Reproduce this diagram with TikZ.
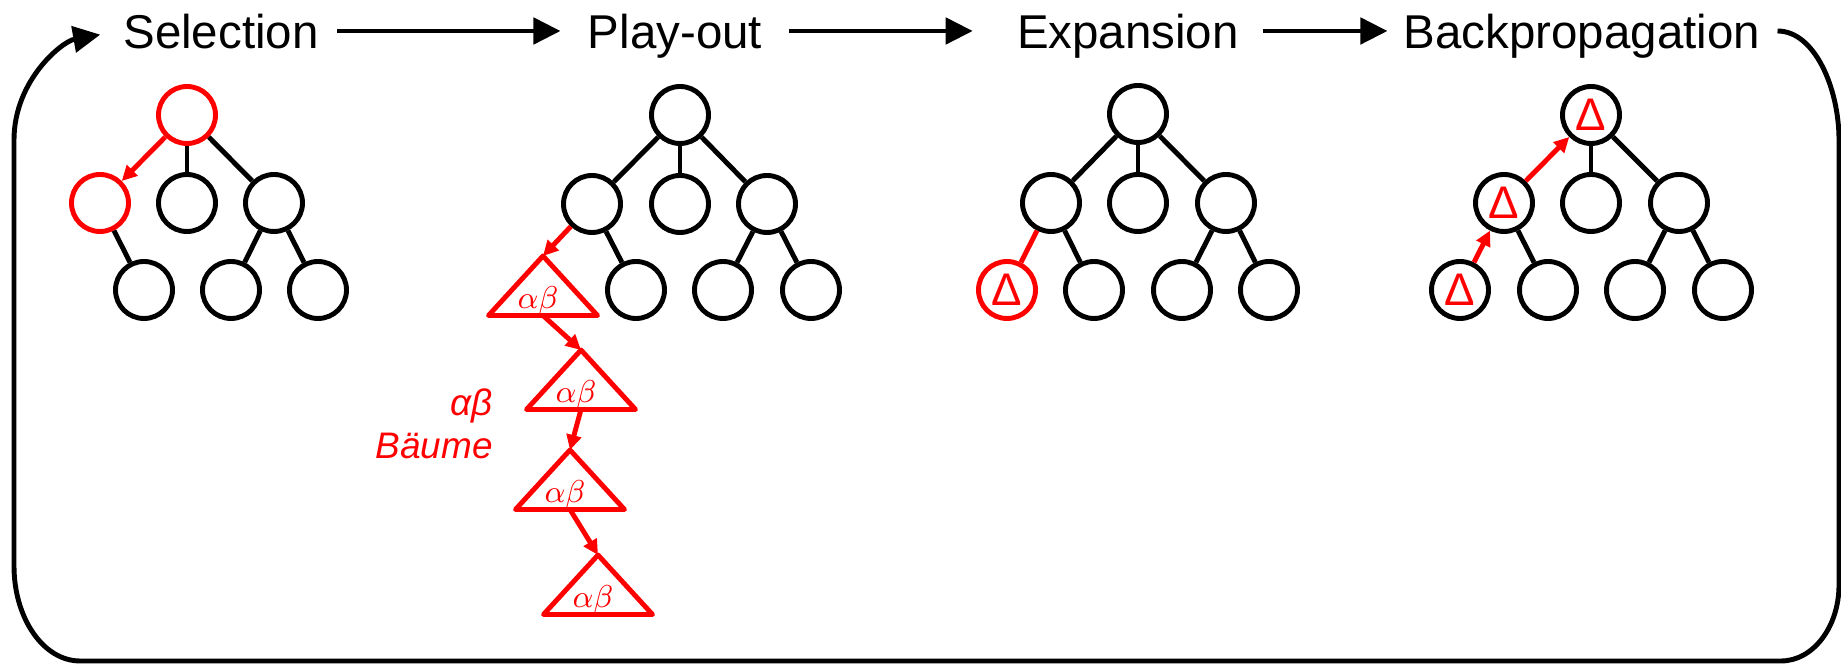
\documentclass[tikz,border=0pt]{standalone}
\usepackage{fontspec}
\setmainfont{Liberation Sans}
\usetikzlibrary{arrows.meta}

\begin{document}
\begin{tikzpicture}[
  >={Triangle[length=7.7pt,width=7.4pt]},
  line width=1.4pt,
  phase/.style={
    font=\fontsize{13.5}{16}\selectfont,
    text height=9.7pt,
    text depth=0pt,
    inner sep=0pt
  },
  nd/.style={circle, draw, minimum size=0.57cm, inner sep=0pt, font=\fontsize{13}{15}\selectfont},
  hot/.style={nd, red},
  val/.style={nd, text=red},
  hop/.style={red, -{Triangle[length=4.3pt,width=4.2pt]}},
  abtree/.pic={
    \draw[red, line join=round] (0,0) -- (-0.545,-0.595) -- (0.545,-0.595) -- cycle;
    \node[red, inner sep=0pt, font=\fontsize{9}{10}\selectfont] (-ab) at (-0.05,-0.45) {$\alpha\beta$};
    \coordinate (-top) at (0,0);
    \coordinate (-bot) at (0,-0.595);
  }
]
\useasboundingbox (0,0) rectangle (18.41,-6.65);

\node[phase] (sel)  at (2.21,-0.31)  {Selection};
\node[phase] (play) at (6.75,-0.31)  {Play-out};
\node[phase] (exp)  at (11.28,-0.31) {Expansion};
\node[phase] (bp)   at (15.82,-0.31) {Backpropagation};

\draw[->, shorten <=0.16cm, shorten >=0.25cm] (sel) -- (play);
\draw[->, shorten <=0.25cm, shorten >=0.42cm] (play) -- (exp);
\draw[->, shorten <=0.22cm, shorten >=0.14cm] (exp) -- (bp);
\draw[->, shorten <=0.15cm, shorten >=0.21cm]
  (bp.east) to[out=0,in=90] (18.39,-1.40) -- (18.39,-5.85)
  arc[start angle=0, end angle=-90, x radius=0.58, y radius=0.76] -- (0.80,-6.61)
  arc[start angle=270, end angle=180, x radius=0.66, y radius=0.95] -- (0.14,-1.40)
  to[out=90,in=190] (sel.west);

% Selection
\node[hot] (s0) at (1.87,-1.15) {};
\node[hot] (s1) at (1.00,-2.03) {};
\node[nd]  (s2) at (1.87,-2.03) {};
\node[nd]  (s3) at (2.74,-2.03) {};
\node[nd]  (s4) at (1.44,-2.90) {};
\node[nd]  (s5) at (2.31,-2.90) {};
\node[nd]  (s6) at (3.18,-2.90) {};

\draw[hop] (s0) -- (s1);
\draw (s0) -- (s2);
\draw (s0) -- (s3);
\draw (s1) -- (s4);
\draw (s3) -- (s5);
\draw (s3) -- (s6);

% Play-out
\node[nd] (p0) at (6.80,-1.15) {};
\node[nd] (p1) at (5.92,-2.04) {};
\node[nd] (p2) at (6.80,-2.04) {};
\node[nd] (p3) at (7.67,-2.04) {};
\node[nd] (p4) at (6.36,-2.90) {};
\node[nd] (p5) at (7.23,-2.90) {};
\node[nd] (p6) at (8.11,-2.90) {};

\pic (t1) at (5.43,-2.56) {abtree};
\pic (t2) at (5.81,-3.50) {abtree};
\pic (t3) at (5.70,-4.50) {abtree};
\pic (t4) at (5.98,-5.55) {abtree};
\node[red, anchor=east, align=right, inner sep=0pt, font=\fontsize{10.5}{12.2}\selectfont\itshape]
  (abt) at (4.95,-4.24) {αβ\\Bäume};

\draw (p0) -- (p1);
\draw (p0) -- (p2);
\draw (p0) -- (p3);
\draw (p1) -- (p4);
\draw (p3) -- (p5);
\draw (p3) -- (p6);
\draw[hop] (p1) -- (t1-top);
\draw[hop] (t1-bot) -- (t2-top);
\draw[hop] (t2-bot) -- (t3-top);
\draw[hop] (t3-bot) -- (t4-top);

% Expansion
\node[nd]  (e0) at (11.38,-1.14) {};
\node[nd]  (e1) at (10.51,-2.03) {};
\node[nd]  (e2) at (11.38,-2.03) {};
\node[nd]  (e3) at (12.26,-2.03) {};
\node[hot] (e4) at (10.07,-2.90) {Δ};
\node[nd]  (e5) at (10.94,-2.90) {};
\node[nd]  (e6) at (11.82,-2.90) {};
\node[nd]  (e7) at (12.69,-2.90) {};

\draw (e0) -- (e1);
\draw (e0) -- (e2);
\draw (e0) -- (e3);
\draw[red] (e1) -- (e4);
\draw (e1) -- (e5);
\draw (e3) -- (e6);
\draw (e3) -- (e7);

% Backpropagation
\node[val] (b0) at (15.91,-1.15) {Δ};
\node[val] (b1) at (15.04,-2.03) {Δ};
\node[nd]  (b2) at (15.91,-2.03) {};
\node[nd]  (b3) at (16.79,-2.03) {};
\node[val] (b4) at (14.60,-2.90) {Δ};
\node[nd]  (b5) at (15.48,-2.90) {};
\node[nd]  (b6) at (16.35,-2.90) {};
\node[nd]  (b7) at (17.23,-2.90) {};

\draw[hop] (b4) -- (b1);
\draw[hop] (b1) -- (b0);
\draw (b0) -- (b2);
\draw (b0) -- (b3);
\draw (b1) -- (b5);
\draw (b3) -- (b6);
\draw (b3) -- (b7);
\end{tikzpicture}
\end{document}
